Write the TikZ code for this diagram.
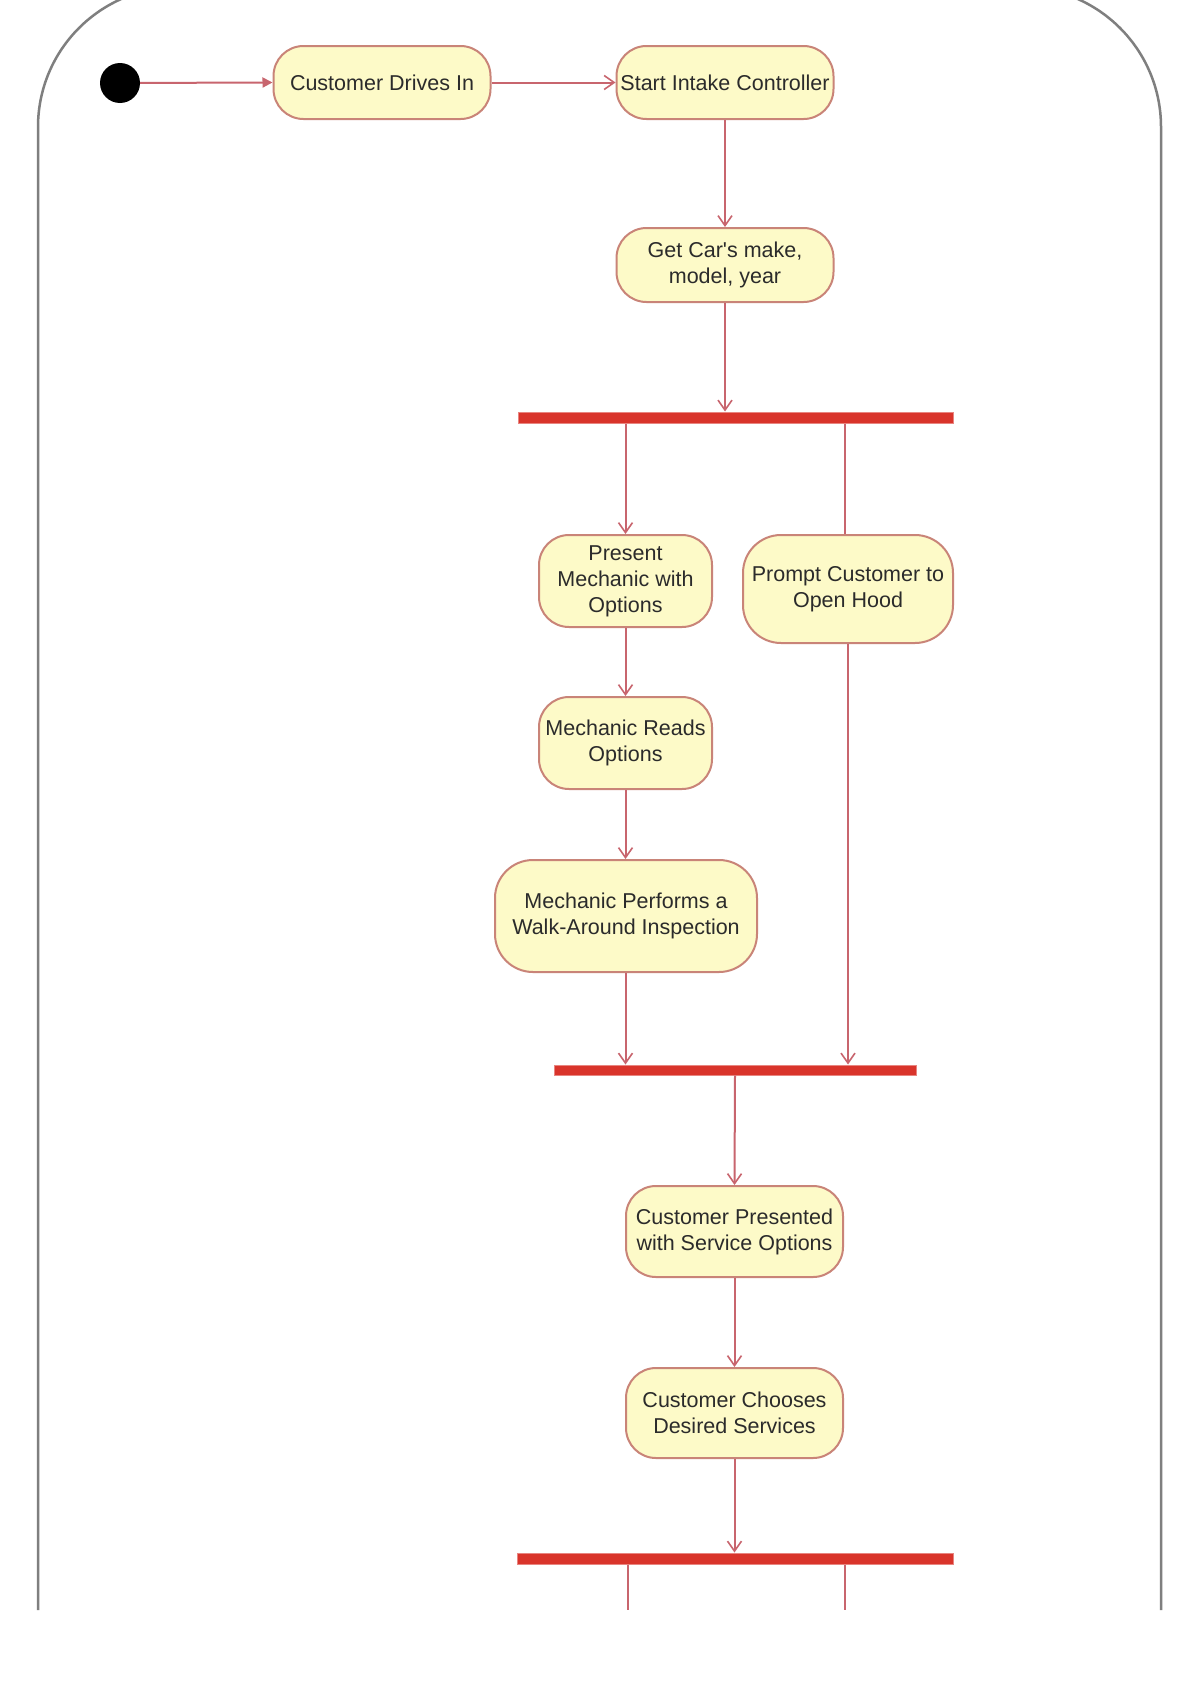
\documentclass[tikz,border=0pt]{standalone}
\usepackage{fontspec}
\setmainfont{Liberation Sans}
\usetikzlibrary{arrows.meta,calc}
\definecolor{boxfill}{HTML}{FDFAC8}
\definecolor{boxline}{HTML}{C98478}
\definecolor{conn}{HTML}{C8656E}
\definecolor{barred}{HTML}{D9342B}
\definecolor{framegray}{HTML}{7F7F7F}
\definecolor{txt}{HTML}{2B2B2B}
\begin{document}
\begin{tikzpicture}[x=1pt,y=-1pt,
  act/.style={draw=boxline, fill=boxfill, line width=2pt, rounded corners=30pt, align=center, text=txt, font=\fontsize{21.5}{26}\selectfont, inner sep=0pt},
  bar/.style={fill=barred, draw=barred!60!white, line width=1pt, inner sep=0pt},
  flow/.style={draw=conn, line width=2pt, -{Straight Barb[length=10pt,width=14pt,line width=1.6pt]}},
  firstflow/.style={draw=conn, line width=2pt, -{Triangle[length=10pt,width=10pt]}},
  plain/.style={draw=conn, line width=2pt}]
\useasboundingbox (0,0) rectangle (1193,1705);
\fill[white] (0,0) rectangle (1193,1705);
\begin{scope}
\clip (0,0) rectangle (1193,1705);
\draw[framegray, line width=2.5pt, rounded corners=140pt] (38,1610) -- (38,-13) -- (1161,-13) -- (1161,1610);
\end{scope}

\node[circle, fill=black, minimum size=40pt, inner sep=0pt] (init) at (120,83) {};
\node[act, minimum width=217pt, minimum height=73pt] (a1) at (382,82.5) {Customer Drives In};
\node[act, minimum width=217pt, minimum height=73pt] (a2) at (725,82.5) {Start Intake Controller};
\node[act, minimum width=217pt, minimum height=74pt] (a3) at (725,265) {Get Car\textquotesingle s make,\\model, year};
\node[bar, minimum width=435pt, minimum height=11pt] (fork1) at (735.5,417.5) {};
\node[act, minimum width=173pt, minimum height=92pt] (a4) at (625.5,581) {Present\\Mechanic with\\Options};
\node[act, minimum width=210pt, minimum height=108pt, rounded corners=38pt] (a5) at (848,589) {Prompt Customer to\\Open Hood};
\node[act, minimum width=173pt, minimum height=92pt] (a6) at (625.5,743) {Mechanic Reads\\Options};
\node[act, minimum width=262pt, minimum height=112pt, rounded corners=38pt] (a7) at (626,916) {Mechanic Performs a\\Walk-Around Inspection};
\node[bar, minimum width=362pt, minimum height=10pt] (join) at (735,1070) {};
\node[act, minimum width=217pt, minimum height=91pt] (a8) at (734.5,1231.5) {Customer Presented\\with Service Options};
\node[act, minimum width=217pt, minimum height=90pt] (a9) at (734.5,1413) {Customer Chooses\\Desired Services};
\node[bar, minimum width=436pt, minimum height=11pt] (fork2) at (735,1558.5) {};
\coordinate (endL) at (628,1610);
\coordinate (endR) at (845,1610);

\draw[firstflow] (init) -- (a1.west);
\draw[flow] (a1.east) -- (a2.west);
\draw[flow] (a2.south) -- (a3.north);
\draw[flow] (a3.south) -- (a3.south |- fork1.north);
\draw[flow] (a4.north |- fork1.south) -- (a4.north);
\draw[plain] ([xshift=-3pt]a5.north |- fork1.south) -- ([xshift=-3pt]a5.north);
\draw[flow] (a4.south) -- (a6.north);
\draw[flow] (a6.south) -- (a6.south |- a7.north);
\draw[flow] (a7.south -| a6.south) -- (a6.south |- join.north);
\draw[flow] (a5.south) -- (a5.south |- join.north);
\draw[flow] (join.south) -- (a8.north);
\draw[flow] (a8.south) -- (a9.north);
\draw[flow] (a9.south) -- (a9.south |- fork2.north);
\draw[plain] (endL |- fork2.south) -- (endL);
\draw[plain] (endR |- fork2.south) -- (endR);
\end{tikzpicture}
\end{document}
